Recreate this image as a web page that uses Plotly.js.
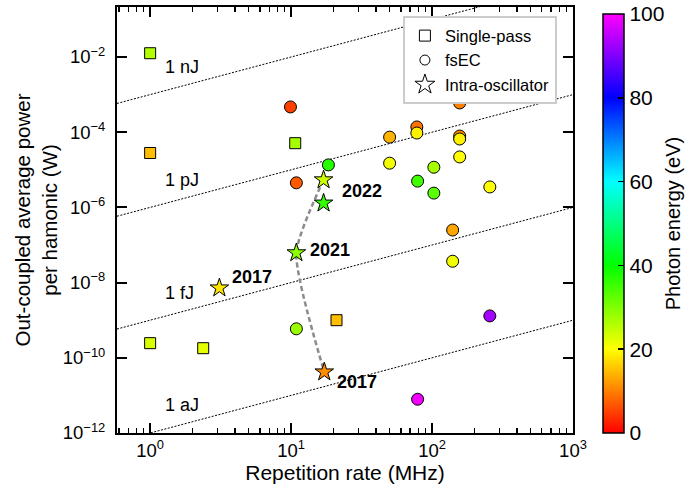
<!DOCTYPE html>
<html><head><meta charset="utf-8">
<script src="https://cdn.plot.ly/plotly-3.0.1.min.js"></script>
<style>html,body{margin:0;padding:0;background:#fff}</style>
</head><body><div id="chart" style="width:687px;height:490px"></div>
<script>
// ---------------- data ----------------
// Single-pass
const spRate   = [1.0, 1.0, 10.7, 1.0, 2.38, 21];
const spPower  = [1.26e-2, 2.8e-5, 5.1e-5, 2.45e-10, 1.8e-10, 1.0e-9];
const spEnergy = [26, 15, 27, 23, 22, 15];

// fsEC
const ecRate   = [9.9, 10.9, 18.4, 50, 78, 78, 157, 157, 157, 157, 50, 103, 79, 103, 257, 140, 140, 257, 79, 10.9];
const ecPower  = [4.7e-4, 4.5e-6, 1.35e-5, 7.4e-5, 1.38e-4, 9.5e-5, 6.0e-4, 7.9e-5, 6.6e-5, 2.2e-5, 1.5e-5, 1.17e-5, 5.0e-6, 2.4e-6, 3.5e-6, 2.5e-7, 3.7e-8, 1.3e-9, 7.9e-12, 5.9e-10];
const ecEnergy = [5, 7, 37, 14, 9, 19, 10, 11, 19, 20, 21, 27, 35, 33, 20, 13, 21, 93, 99, 28];

// Intra-oscillator
const ioRate   = [3.1, 10.9, 17, 17, 17.2];
const ioPower  = [7.2e-9, 6.2e-8, 5.4e-6, 1.3e-6, 4.2e-11];
const ioEnergy = [18, 29, 24, 36, 11];
const ioLabels = ['2017', '2021', '', '2022', '2017'];
const ioCurveIdx = [2, 1, 4];   // stars joined by the dashed curve

// Constant pulse-energy guide lines (J)
const energyLevels = [1e-9, 1e-12, 1e-15, 1e-18];
const energyLabels = ['1 nJ', '1 pJ', '1 fJ', '1 aJ'];

// Axis ticks
const xTickVals = [1, 10, 100, 1000];
const xTickText = ['10<sup>0</sup>', '10<sup>1</sup>', '10<sup>2</sup>', '10<sup>3</sup>'];
const yTickVals = [1e-12, 1e-10, 1e-8, 1e-6, 1e-4, 1e-2];
const yTickText = ['10<sup>\u221212</sup>', '10<sup>\u221210</sup>', '10<sup>\u22128</sup>', '10<sup>\u22126</sup>', '10<sup>\u22124</sup>', '10<sup>\u22122</sup>'];
const cbTickVals = [0, 20, 40, 60, 80, 100];
const cbTitle = 'Photon energy (eV)';

// ---------------- styling ----------------
const FONT = 'Liberation Sans, Arial, sans-serif';
const xRange = [-0.235, 3.0];
const yRange = [-12, -0.67];
const cscale = [[0, '#ff0000'], [0.2, '#ffff00'], [0.4, '#00ff00'], [0.6, '#00ffff'], [0.8, '#0000ff'], [1, '#ff00ff']];
const cMin = -0.01, cMax = 100.01;

const xMinor = [];
for (let d = -1; d <= 2; d++) for (let m = 2; m <= 9; m++) xMinor.push(m * Math.pow(10, d));

const traces = [];

// guide lines
const xEnds = [Math.pow(10, xRange[0]), Math.pow(10, xRange[1])];
energyLevels.forEach(E => {
  traces.push({
    x: xEnds, y: xEnds.map(f => E * f * 1e6),
    mode: 'lines', line: {color: 'black', width: 1, dash: '2px,1.5px'},
    showlegend: false, hoverinfo: 'skip'
  });
});

// dashed curve between stars
traces.push({
  x: ioCurveIdx.map(i => ioRate[i]), y: ioCurveIdx.map(i => ioPower[i]),
  mode: 'lines', line: {color: '#8c8c8c', width: 2.5, dash: '5px,3px', shape: 'spline', smoothing: 0.6},
  showlegend: false, hoverinfo: 'skip'
});

function markerTrace(x, y, c, symbol, size, showScale) {
  const m = {
    symbol: symbol, size: size, color: c, colorscale: cscale, cmin: cMin, cmax: cMax,
    line: {color: 'black', width: 1}
  };
  if (showScale) {
    m.showscale = true;
    m.colorbar = {
      x: 1.0658, xanchor: 'left', xref: 'paper', xpad: 0, ypad: 0,
      y: 0, yanchor: 'bottom', yref: 'paper',
      thickness: 21, thicknessmode: 'pixels', len: 419, lenmode: 'pixels',
      outlinewidth: 1.5, outlinecolor: 'black',
      tickmode: 'array', tickvals: cbTickVals, ticks: 'inside', ticklen: 6, tickwidth: 1.5, tickcolor: 'black',
      ticklabeloverflow: 'allow',
      tickfont: {size: 21, family: FONT}
    };
  } else m.showscale = false;
  return {x: x, y: y, mode: 'markers', marker: m, showlegend: false, hoverinfo: 'skip'};
}

traces.push(markerTrace(spRate, spPower, spEnergy, 'square', 11, true));
traces.push(markerTrace(ecRate, ecPower, ecEnergy, 'circle', 12, false));
traces.push(markerTrace(ioRate, ioPower, ioEnergy, 'star', 14, false));

// legend-only traces
[['Single-pass', 'square', 11], ['fsEC', 'circle', 10], ['Intra-oscillator', 'star', 15]].forEach(([n, s, sz]) => {
  traces.push({
    x: [null], y: [null], mode: 'markers', name: n,
    marker: {symbol: s, size: sz, color: 'white', line: {color: 'black', width: 1}},
    showlegend: true, hoverinfo: 'skip'
  });
});

// annotations
const annotations = [];
const lblX = 1.24;
energyLevels.forEach((E, i) => {
  annotations.push({
    x: Math.log10(lblX), y: Math.log10(E * lblX * 1e6), xref: 'x', yref: 'y',
    text: energyLabels[i], showarrow: false, xanchor: 'left', yanchor: 'middle',
    yshift: 24, font: {size: 18, family: FONT, color: 'black'}
  });
});
const starShift = [[11, 11], [12, 3], [0, 0], [16, 12], [11, -10]];
ioLabels.forEach((t, i) => {
  if (!t) return;
  annotations.push({
    x: Math.log10(ioRate[i]), y: Math.log10(ioPower[i]), xref: 'x', yref: 'y',
    text: '<b>' + t + '</b>', showarrow: false, xanchor: 'left', yanchor: 'middle',
    xshift: starShift[i][0], yshift: starShift[i][1],
    font: {size: 18, family: FONT, color: 'black'}
  });
});
// colour-bar title
annotations.push({
  x: 1.2193, y: 0.49, xref: 'paper', yref: 'paper', text: cbTitle, textangle: -90,
  showarrow: false, xanchor: 'center', yanchor: 'middle',
  font: {size: 20, family: FONT, color: 'black'}
});

const axisCommon = {
  type: 'log', tickmode: 'array', ticks: 'inside', ticklen: 10, tickwidth: 2, tickcolor: 'black',
  showline: true, linewidth: 2, linecolor: 'black', mirror: 'ticks',
  showgrid: false, zeroline: false, tickfont: {size: 18.5, family: FONT}
};

const layout = {
  width: 687, height: 490,
  margin: {l: 117, r: 114, t: 7, b: 57},
  paper_bgcolor: 'white', plot_bgcolor: 'white',
  font: {family: FONT, size: 18, color: 'black'},
  showlegend: true,
  legend: {x: 0.627, y: 0.978, xanchor: 'left', yanchor: 'top', bgcolor: 'white',
           bordercolor: '#cccccc', borderwidth: 2, font: {size: 16.5, family: FONT}},
  xaxis: Object.assign({}, axisCommon, {
    range: xRange, tickvals: xTickVals, ticktext: xTickText,
    minor: {tickmode: 'array', tickvals: xMinor, ticks: 'inside', ticklen: 5, tickwidth: 1.5, tickcolor: 'black', showgrid: false},
    title: {text: 'Repetition rate (MHz)', font: {size: 21, family: FONT}, standoff: 2}
  }),
  yaxis: Object.assign({}, axisCommon, {
    range: yRange, tickvals: yTickVals, ticktext: yTickText, ticklabelstandoff: 6,
    title: {text: 'Out-coupled average power<br>per hamonic (W)', font: {size: 20.5, family: FONT}, standoff: 0}
  }),
  annotations: annotations
};

Plotly.newPlot('chart', traces, layout, {staticPlot: true, displayModeBar: false});
</script>
</body></html>
